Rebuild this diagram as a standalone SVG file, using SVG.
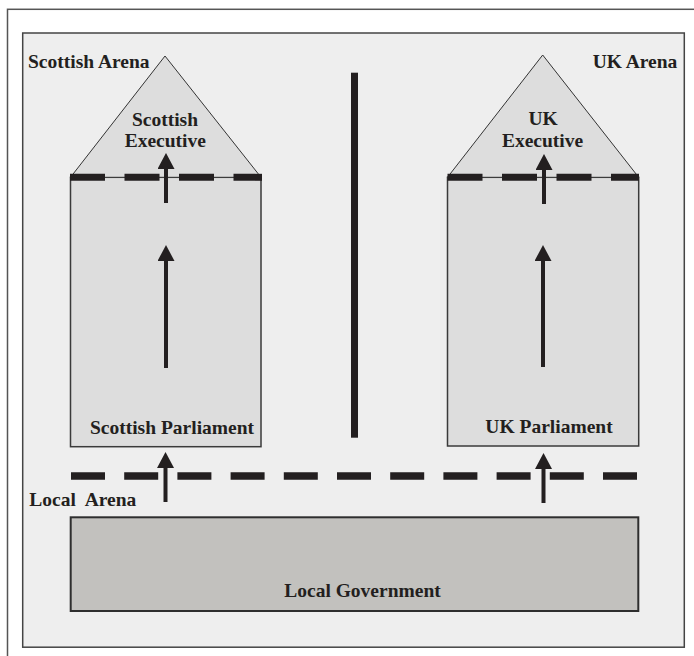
<svg xmlns="http://www.w3.org/2000/svg" width="694" height="656" viewBox="0 0 694 656">
<defs>
<marker id="ah" viewBox="0 0 16 17" markerWidth="16" markerHeight="17" markerUnits="userSpaceOnUse" refX="1" refY="8.5" orient="auto">
<path d="M0,0 L16,8.5 L0,17 z" fill="#231f20"/>
</marker>
</defs>
<style>
.t{font-family:"Liberation Serif","Times New Roman",serif;font-weight:bold;font-size:19.5px;fill:#231f20}
.m{text-anchor:middle}
.box{fill:#dddddd;stroke:#3a3a3a;stroke-width:1.5}
.tri{fill:#dddddd;stroke:#333;stroke-width:1}
.dash{stroke:#231f20;fill:none}
.arr{stroke:#231f20;stroke-width:4;fill:none;marker-end:url(#ah)}
</style>
<rect width="694" height="656" fill="#ffffff"/>
<g id="frame">
<rect x="7.5" y="9.3" width="700" height="660" fill="#ffffff" stroke="#555" stroke-width="1.5"/>
<rect x="22.7" y="33" width="661.6" height="614.2" fill="#eeeeee" stroke="#444" stroke-width="1.5"/>
</g>
<g id="local-government">
<rect x="70.7" y="517.3" width="567.6" height="93.7" fill="#c2c1be" stroke="#2e2e2e" stroke-width="2"/>
<text class="t m" x="362.5" y="596.5">Local Government</text>
</g>
<g id="scottish-parliament">
<rect class="box" x="70.5" y="177.3" width="190.5" height="269.4"/>
<text class="t m" x="172" y="434.3">Scottish Parliament</text>
</g>
<g id="scottish-executive">
<polygon class="tri" points="165,56 70.5,177.3 261,177.3"/>
<text class="t m" x="165" y="125.7">Scottish</text>
<text class="t m" x="165.3" y="147.3">Executive</text>
</g>
<g id="uk-parliament">
<rect class="box" x="447.5" y="177.3" width="191.2" height="268.7"/>
<text class="t m" x="549" y="432.8">UK Parliament</text>
</g>
<g id="uk-executive">
<polygon class="tri" points="542.7,55 447.5,177.3 638.7,177.3"/>
<text class="t m" x="543" y="125.3">UK</text>
<text class="t m" x="542.5" y="147.3">Executive</text>
</g>
<g id="labels">
<text class="t" x="28" y="68">Scottish Arena</text>
<text class="t" x="592.7" y="68">UK Arena</text>
<text class="t" x="29.3" y="506" word-spacing="5">Local Arena</text>
</g>
<g id="connectors">
<rect x="351" y="72.7" width="7" height="365" fill="#231f20"/>
<line class="dash" x1="70" y1="177.3" x2="262" y2="177.3" stroke-width="7" stroke-dasharray="35 19.5"/>
<line class="dash" x1="447.5" y1="177.3" x2="639" y2="177.3" stroke-width="7" stroke-dasharray="35 19.5"/>
<line class="dash" x1="71" y1="476" x2="637" y2="476" stroke-width="7.5" stroke-dasharray="34 19.2"/>
<line class="arr" x1="166" y1="203" x2="166" y2="168"/>
<line class="arr" x1="544" y1="204" x2="544" y2="169"/>
<line class="arr" x1="166" y1="368" x2="166" y2="260"/>
<line class="arr" x1="543" y1="367" x2="543" y2="260"/>
<line class="arr" x1="165.5" y1="502" x2="165.5" y2="467"/>
<line class="arr" x1="543.5" y1="503" x2="543.5" y2="468"/>
</g>
</svg>
